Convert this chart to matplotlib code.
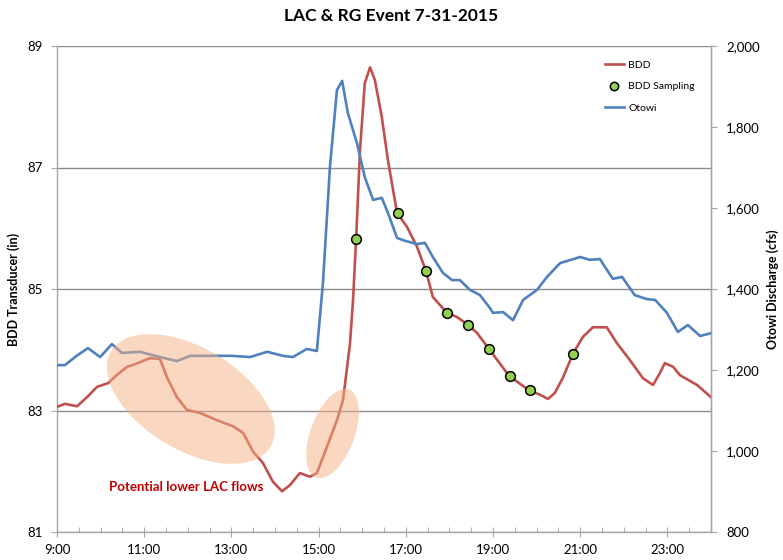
import matplotlib
matplotlib.use("Agg")
import matplotlib.pyplot as plt
from matplotlib.ticker import FixedLocator, MultipleLocator, FuncFormatter
from matplotlib.patches import Ellipse
from matplotlib.lines import Line2D
from matplotlib.transforms import ScaledTranslation

# Otowi discharge (cfs), hours of day
otowi_t = [9.00, 9.18, 9.45, 9.71, 9.99, 10.26, 10.49, 10.90, 11.36, 11.75, 12.05, 12.5, 13.0,
           13.43, 13.82, 14.18, 14.41, 14.73, 14.96, 15.10, 15.26, 15.42, 15.54, 15.67, 15.88,
           16.06, 16.25, 16.45, 16.59, 16.80, 16.98, 17.26, 17.44, 17.62, 17.85, 18.06, 18.24,
           18.47, 18.70, 18.93, 19.00, 19.23, 19.46, 19.69, 20.01, 20.24, 20.54, 21.00, 21.22,
           21.45, 21.75, 21.96, 22.25, 22.53, 22.72, 22.99, 23.24, 23.47, 23.75, 24.00]
otowi_q = [1212, 1212, 1235, 1254, 1232, 1264, 1242, 1245, 1232, 1222, 1235, 1235, 1235,
           1232, 1245, 1235, 1232, 1252, 1247, 1415, 1701, 1891, 1914, 1835, 1760,
           1676, 1620, 1625, 1588, 1526, 1519, 1511, 1514, 1479, 1440, 1422, 1422,
           1398, 1385, 1353, 1341, 1343, 1323, 1373, 1398, 1430, 1464, 1479, 1472,
           1474, 1425, 1430, 1385, 1375, 1373, 1341, 1294, 1311, 1284, 1291]

# BDD transducer (in)
bdd_t = [9.00, 9.18, 9.46, 9.69, 9.92, 10.17, 10.38, 10.61, 10.74, 11.13, 11.36, 11.52, 11.75,
         11.98, 12.28, 12.67, 13.04, 13.27, 13.50, 13.72, 13.95, 14.16, 14.34, 14.57, 14.80,
         14.96, 15.19, 15.42, 15.56, 15.72, 15.79, 15.86, 15.95, 16.06, 16.18, 16.29, 16.45,
         16.59, 16.80, 17.03, 17.26, 17.46, 17.62, 17.94, 18.17, 18.43, 18.63, 18.89, 19.37,
         19.85, 20.08, 20.26, 20.42, 20.61, 20.83, 21.06, 21.29, 21.61, 21.84, 22.14, 22.44,
         22.67, 22.83, 22.94, 23.13, 23.29, 23.68, 24.00]
bdd_in = [83.06, 83.11, 83.07, 83.22, 83.39, 83.45, 83.59, 83.72, 83.75, 83.86, 83.85, 83.55, 83.22,
          83.01, 82.96, 82.84, 82.74, 82.63, 82.32, 82.14, 81.83, 81.67, 81.77, 81.97, 81.91,
          81.97, 82.40, 82.84, 83.17, 84.10, 84.82, 85.82, 87.29, 88.39, 88.65, 88.44, 87.83,
          87.12, 86.25, 86.02, 85.69, 85.30, 84.87, 84.61, 84.54, 84.41, 84.28, 84.03, 83.57,
          83.32, 83.26, 83.19, 83.29, 83.55, 83.93, 84.21, 84.37, 84.37, 84.11, 83.83, 83.53,
          83.42, 83.62, 83.78, 83.72, 83.58, 83.42, 83.22]

# BDD sampling points
samp_t = [15.86, 16.82, 17.46, 17.94, 18.43, 18.91, 19.39, 19.85, 20.83]
samp_in = [85.82, 86.25, 85.30, 84.61, 84.41, 84.01, 83.57, 83.34, 83.93]

hour_ticks = [9, 11, 13, 15, 17, 19, 21, 23]
bdd_ticks = [81, 83, 85, 87, 89]

red = '#C0504D'
blue = '#4F81BD'
green = '#92D050'
grid_c = '#8C8C8C'
spine_c = '#A6A6A6'

plt.rcParams['font.family'] = ['Lato', 'DejaVu Sans']

fig = plt.figure(figsize=(7.83, 5.60), dpi=100)
ax = fig.add_axes([57/783, 1-532/560, (711-57)/783, (532-46)/560])
ax2 = ax.twinx()

ax.plot(bdd_t, bdd_in, color=red, lw=1.9, zorder=3)
ax.plot(samp_t, samp_in, 'o', ms=7, mfc=green, mec='black', mew=1.1, zorder=4)
ax2.plot(otowi_t, otowi_q, color=blue, lw=1.9, zorder=3)

ax.set_xlim(9, 24)
ax.set_ylim(81, 89)
ax2.set_ylim(800, 2000)

ax.xaxis.set_major_locator(FixedLocator(hour_ticks))
ax.xaxis.set_minor_locator(MultipleLocator(0.5))
ax.xaxis.set_major_formatter(FuncFormatter(lambda v, p: '%d:00' % int(round(v))))
ax.yaxis.set_major_locator(FixedLocator(bdd_ticks))
ax2.yaxis.set_major_locator(MultipleLocator(200))
ax2.yaxis.set_major_formatter(FuncFormatter(lambda v, p: '{:,.0f}'.format(v)))

ax.grid(axis='y', color=grid_c, lw=1.0, zorder=0)
ax.set_axisbelow(True)

for a in (ax, ax2):
    for s in a.spines.values():
        s.set_color(spine_c)
        s.set_linewidth(1.0)
    a.spines['top'].set_visible(False)
ax2.spines['left'].set_visible(False)
ax2.spines['bottom'].set_visible(False)

ax.tick_params(axis='x', which='major', direction='inout', length=7, color=spine_c,
               labelsize=9.5, pad=5, labelcolor='black')
ax.tick_params(axis='x', which='minor', direction='in', length=3.5, color=spine_c)
ax.tick_params(axis='y', direction='out', length=4, color=spine_c, labelsize=9.5, pad=6)
ax2.tick_params(axis='y', direction='out', length=4, color=spine_c, labelsize=9.5, pad=7)

ax.set_ylabel('BDD Transducer (in)', fontsize=9, fontweight='bold')
ax2.set_ylabel('Otowi Discharge (cfs)', fontsize=9, fontweight='bold')
ax.yaxis.set_label_coords(-0.057, 0.5)
ax2.yaxis.set_label_coords(1.085, 0.5)
fig.suptitle('LAC & RG Event 7-31-2015', fontsize=12.5, fontweight='bold', y=0.985)

# highlight ellipses (size in inches, centered on data points of the BDD axis)
for cx, cy, w, h, ang in [(12.07, 83.19, 1.86, 1.02, -31), (15.32, 82.62, 0.94, 0.44, 69.5)]:
    tr = fig.dpi_scale_trans + ScaledTranslation(cx, cy, ax.transData)
    e = Ellipse((0, 0), w, h, angle=ang, transform=tr, facecolor='#F4B183',
                edgecolor='none', alpha=0.5, zorder=5)
    ax2.add_patch(e)

ax.text(11.96, 81.74, 'Potential lower LAC flows', color='#C00000', fontsize=9.5,
        fontweight='bold', ha='center', va='center', zorder=6)

handles = [Line2D([], [], color=red, lw=1.9),
           Line2D([], [], ls='none', marker='o', ms=6, mfc=green, mec='black', mew=1.1),
           Line2D([], [], color=blue, lw=1.9)]
ax2.legend(handles, ['BDD', 'BDD Sampling', 'Otowi'], loc='upper right',
           bbox_to_anchor=(0.99, 0.99), frameon=False, fontsize=7.5, handlelength=1.9,
           handletextpad=0.4, labelspacing=1.2)

fig.savefig('out.png', dpi=100)
